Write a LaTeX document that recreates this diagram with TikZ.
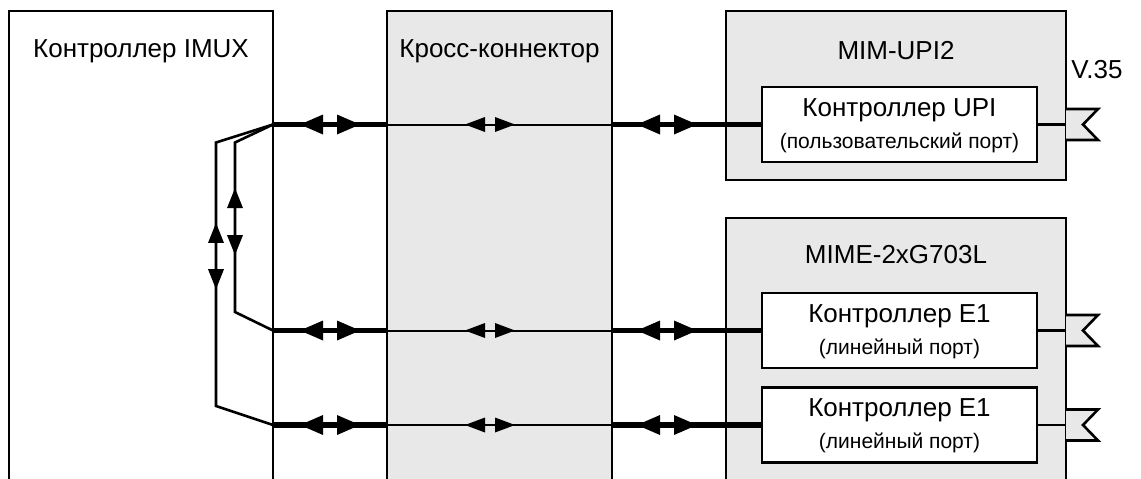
\documentclass[tikz,border=0pt]{standalone}
\usepackage{fontspec}
\setmainfont{Liberation Sans}
\usepackage{tikz}
\usetikzlibrary{arrows.meta,positioning,decorations.markings}
\definecolor{modgray}{RGB}{232,232,232}
\tikzset{basic/.style={draw,line width=1.3pt,rectangle,inner sep=0pt,
                       outer sep=0pt,anchor=north west}}
\tikzset{module/.style={basic,fill=modgray}}
\tikzset{ctl/.style={basic,fill=white,minimum width=137.5pt,minimum height=37.5pt}}
\tikzset{boxtitle/.style={font=\fontsize{13}{15}\selectfont,inner sep=0pt,anchor=base}}
\tikzset{portnote/.style={font=\fontsize{10.5}{12}\selectfont,inner sep=0pt,anchor=base}}
\tikzset{bus/.style={line width=2.6pt}}
\tikzset{link/.style={line width=1pt}}
\tikzset{wire/.style={line width=1.3pt}}
\tikzset{bigtip/.tip={Triangle[length=11.5pt,width=10pt,line width=0pt]}}
\tikzset{smalltip/.tip={Triangle[length=10pt,width=7.5pt,line width=0pt]}}
\tikzset{looptip/.tip={Triangle[length=10pt,width=8pt,line width=0pt]}}
\tikzset{twoway/.style n args={3}{postaction={decorate,decoration={markings,
            mark=at position #1 with {\arrowreversed{#3}},
            mark=at position #2 with {\arrow{#3}}}}}}
\newcommand{\portflag}{\filldraw[wire,fill=modgray] (0,-15.5) -- (32,-15.5)
                                -- (17,0) -- (32,15.5) -- (0,15.5);}

\begin{document}
\begin{tikzpicture}[x=0.5pt,y=-0.5pt]
    \useasboundingbox (0,0) rectangle (1141,478);
    \clip (0,0) rectangle (1141,478);
    % Draw the blocks (the tall ones run off the bottom edge)
    \node[basic, minimum width=132pt, minimum height=245pt] (imux) at (9,11) {};
    \node[module, minimum width=112.5pt, minimum height=245pt] (cross) at (387,11) {};
    \node[module, minimum width=170pt, minimum height=84.5pt] (mim) at (726,11) {};
    \node[module, minimum width=170pt, minimum height=141pt] (mime) at (726,218) {};
    % Controllers inside the modules
    \node[ctl] (upictl) at (762,87) {};
    \node[ctl] (e1a) at (762,293) {};
    \node[ctl] (e1b) at (762,387.5) {};
    % Block titles
    \node[boxtitle] (imuxname) at ([yshift=-23pt]imux.north) {Контроллер IMUX};
    \node[boxtitle] (crossname) at ([yshift=-23pt]cross.north) {Кросс-коннектор};
    \node[boxtitle] (mimname) at ([yshift=-24pt]mim.north) {MIM-UPI2};
    \node[boxtitle] (mimename) at ([yshift=-22.5pt]mime.north) {MIME-2xG703L};
    \foreach \c/\t/\p in {upictl/UPI/пользовательский порт,
                          e1a/E1/линейный порт,e1b/E1/линейный порт}{%
        \node[boxtitle] (\c-name) at ([yshift=-14.5pt]\c.north) {Контроллер \t};
        \node[portnote] (\c-port) at ([yshift=-30.5pt]\c.north) {(\p)};
      }
    % Buses through the cross-connector, and the ports
    \foreach \c/\m in {upictl/mim,e1a/mime,e1b/mime}{%
        \draw[bus, twoway={13.5pt}{43.5pt}{bigtip}] (imux.east |- \c) -- (cross.west |- \c);
        \draw[link, twoway={39pt}{64pt}{smalltip}] (cross.west |- \c) -- (cross.east |- \c);
        \draw[bus, twoway={12.5pt}{42.5pt}{bigtip}] (cross.east |- \c) -- (\c.west);
        \draw[wire] (\c.east) -- (\c.east -| \m.east);
        \begin{scope}[shift={(\c.east -| \m.east)}]
            \portflag
        \end{scope}
      }
    % Loop-back lines inside the IMUX controller
    \draw[wire, twoway={43.8pt}{77.3pt}{looptip}] (imux.east |- upictl)
        -- ++(-38,18) -- ++(0,169.5) -- (imux.east |- e1a);
    \draw[wire, twoway={70.1pt}{103.2pt}{looptip}] (imux.east |- upictl)
        -- ++(-57,18) -- ++(0,263.5) -- (imux.east |- e1b);
    % Interface label
    \node[boxtitle] (v35) at (1097,78) {V.35};
\end{tikzpicture}
\end{document}
